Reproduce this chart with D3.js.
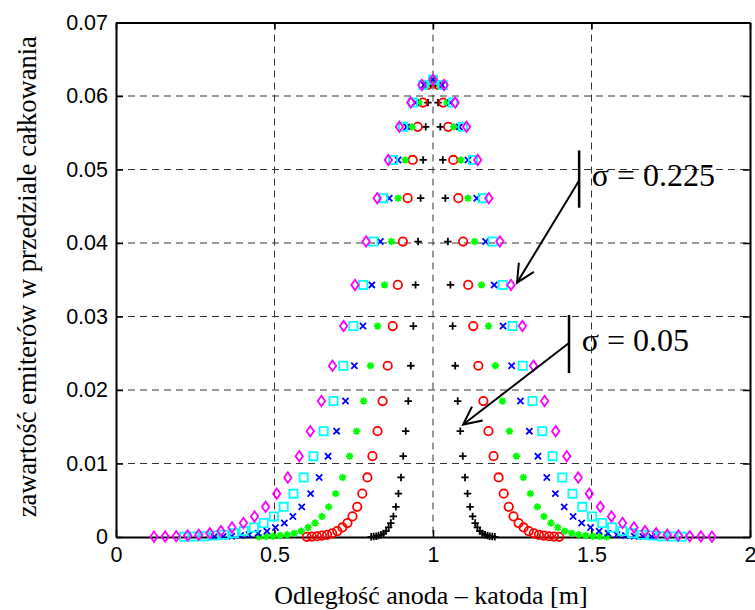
<!DOCTYPE html>
<html>
<head>
<meta charset="utf-8">
<script src="https://cdn.jsdelivr.net/npm/d3@7"></script>
<style>
  body { margin: 0; background: #fff; }
  .tick text { font-family: "Liberation Sans", Arial, sans-serif; font-size: 21.5px; fill: #000; }
</style>
</head>
<body>
<div id="chart"></div>
<script>
// ---- data -------------------------------------------------------------
// content per integration interval, shared by all sigmas (k = 0 .. 25 from the centre)
const yLevels = [0.0622, 0.0615, 0.0591, 0.0558, 0.0513, 0.0461, 0.0402, 0.0343, 0.0287, 0.0233,
    0.0185, 0.0144, 0.0110, 0.0081, 0.0059, 0.0041, 0.0028, 0.0019, 0.0013, 0.0008,
    0.0005, 0.0003, 0.0002, 0.0001, 0.00006, 0.00003];

// distance from the centre x = 1 of each point (k = 0 .. 25), the curves are symmetric
const offBlack = [0, 0.008, 0.016, 0.023, 0.031, 0.039, 0.047, 0.055, 0.062, 0.070, 0.078, 0.086, 0.094,
    0.101, 0.109, 0.117, 0.125, 0.133, 0.140, 0.148, 0.156, 0.164, 0.172, 0.179, 0.187, 0.195];
const offRed = [0, 0.016, 0.032, 0.048, 0.064, 0.080, 0.095, 0.111, 0.127, 0.143, 0.159, 0.175, 0.191,
    0.207, 0.223, 0.239, 0.254, 0.270, 0.286, 0.302, 0.318, 0.334, 0.350, 0.366, 0.382, 0.398];
const offGreen = [0, 0.022, 0.044, 0.066, 0.088, 0.110, 0.131, 0.153, 0.175, 0.197, 0.219, 0.241, 0.263,
    0.285, 0.307, 0.329, 0.350, 0.372, 0.394, 0.416, 0.438, 0.460, 0.482, 0.504, 0.526, 0.548];
const offBlue = [0, 0.028, 0.055, 0.083, 0.110, 0.138, 0.166, 0.193, 0.221, 0.248, 0.276, 0.304, 0.331,
    0.359, 0.386, 0.414, 0.442, 0.469, 0.497, 0.524, 0.552, 0.580, 0.607, 0.635, 0.662, 0.690];
const offCyan = [0, 0.031, 0.063, 0.094, 0.126, 0.157, 0.188, 0.220, 0.251, 0.283, 0.314, 0.345, 0.377,
    0.408, 0.440, 0.471, 0.502, 0.534, 0.565, 0.597, 0.628, 0.659, 0.691, 0.722, 0.754, 0.785];
const offMagenta = [0, 0.035, 0.070, 0.106, 0.141, 0.176, 0.211, 0.246, 0.282, 0.317, 0.352, 0.387, 0.422,
    0.458, 0.493, 0.528, 0.563, 0.598, 0.634, 0.669, 0.704, 0.739, 0.774, 0.810, 0.845, 0.880];

const xTicks = [0, 0.5, 1, 1.5, 2];
const xTickLabels = ["0", "0.5", "1", "1.5", "2"];
const yTicks = [0, 0.01, 0.02, 0.03, 0.04, 0.05, 0.06, 0.07];
const yTickLabels = ["0", "0.01", "0.02", "0.03", "0.04", "0.05", "0.06", "0.07"];

// annotations (data units): bar, arrow from bar to a point, label
const annotations = [
    {label: "\u03c3 = 0.225", barX: 1.461, barY0: 0.0526, barY1: 0.0448, fromY: 0.0485, toX: 1.265, toY: 0.0346, textX: 1.501, textY: 0.0477},
    {label: "\u03c3 = 0.05", barX: 1.429, barY0: 0.0302, barY1: 0.0223, fromY: 0.0264, toX: 1.095, toY: 0.0153, textX: 1.469, textY: 0.0253}
];

const series = [
    {off: offBlack, color: "#000000", marker: "plus"},
    {off: offRed, color: "#ff0000", marker: "circle"},
    {off: offGreen, color: "#00ff00", marker: "asterisk"},
    {off: offBlue, color: "#0000ff", marker: "times"},
    {off: offCyan, color: "#00ffff", marker: "square"},
    {off: offMagenta, color: "#ff00ff", marker: "diamond"}
];

// ---- canvas ------------------------------------------------------------
const canvWidth = 755, canvHeight = 610;
const margin = {top: 22.5, right: 5, bottom: 73, left: 116};
const width = canvWidth - margin.left - margin.right;
const height = canvHeight - margin.top - margin.bottom;

const svg = d3.select("#chart")
    .append("svg")
    .attr("width", canvWidth)
    .attr("height", canvHeight);

const g = svg.append("g")
    .attr("transform", `translate(${margin.left},${margin.top})`);

const x = d3.scaleLinear().domain([0, 2]).range([0, width]);
const y = d3.scaleLinear().domain([0, 0.07]).range([height, 0]);

// grid (dashed)
g.append("g")
    .selectAll("line")
    .data(yTicks.slice(1, -1))
    .enter()
    .append("line")
    .attr("x1", 0).attr("x2", width)
    .attr("y1", d => y(d)).attr("y2", d => y(d))
    .attr("stroke", "#333").attr("stroke-width", 1).attr("stroke-dasharray", "7,5");

g.append("g")
    .selectAll("line")
    .data(xTicks.slice(1, -1))
    .enter()
    .append("line")
    .attr("y1", 0).attr("y2", height)
    .attr("x1", d => x(d)).attr("x2", d => x(d))
    .attr("stroke", "#333").attr("stroke-width", 1).attr("stroke-dasharray", "7,5");

// axes with inward ticks, box all round
const axisLeft = d3.axisLeft(y).tickValues(yTicks)
    .tickFormat((d, i) => yTickLabels[i]).tickSizeInner(-7).tickSizeOuter(0).tickPadding(8);
const axisBottom = d3.axisBottom(x).tickValues(xTicks)
    .tickFormat((d, i) => xTickLabels[i]).tickSizeInner(-7).tickSizeOuter(0).tickPadding(10);
const axisRight = d3.axisRight(y).tickValues(yTicks).tickFormat("").tickSizeInner(-7).tickSizeOuter(0);
const axisTop = d3.axisTop(x).tickValues(xTicks).tickFormat("").tickSizeInner(-7).tickSizeOuter(0);

g.append("g").attr("class", "axis").call(axisLeft);
g.append("g").attr("class", "axis").attr("transform", `translate(0,${height})`).call(axisBottom);
g.append("g").attr("class", "axis").attr("transform", `translate(${width},0)`).call(axisRight);
g.append("g").attr("class", "axis").call(axisTop);

g.selectAll(".axis .domain").attr("stroke", "#000").attr("stroke-width", 2);
g.selectAll(".axis .tick line").attr("stroke", "#000").attr("stroke-width", 1.5);

// ---- markers -----------------------------------------------------------
const markerPath = {
    plus: "M-3.7,0H3.7M0,-3.7V3.7",
    times: "M-3.1,-3.1L3.1,3.1M-3.1,3.1L3.1,-3.1",
    asterisk: "M-3.7,0H3.7M0,-3.7V3.7M-2.6,-2.6L2.6,2.6M-2.6,2.6L2.6,-2.6",
    circle: "M4.2,0A4.2,4.2 0 1,1 -4.2,0A4.2,4.2 0 1,1 4.2,0Z",
    square: "M-4.1,-4.1H4.1V4.1H-4.1Z",
    diamond: "M0,-5.2L3.7,0L0,5.2L-3.7,0Z"
};

series.forEach(s => {
    const pts = [];
    for (let k = s.off.length - 1; k >= 1; k--) pts.push({x: 1 - s.off[k], y: yLevels[k]});
    for (let k = 0; k < s.off.length; k++) pts.push({x: 1 + s.off[k], y: yLevels[k]});

    g.append("g")
        .selectAll("path")
        .data(pts)
        .enter()
        .append("path")
        .attr("d", markerPath[s.marker])
        .attr("transform", d => `translate(${x(d.x)},${y(d.y)})`)
        .attr("fill", "none")
        .attr("stroke", s.color)
        .attr("stroke-width", 1.8);
});

// ---- annotations -------------------------------------------------------
annotations.forEach(a => {
    const ann = g.append("g");
    ann.append("line")
        .attr("x1", x(a.barX)).attr("x2", x(a.barX))
        .attr("y1", y(a.barY0)).attr("y2", y(a.barY1))
        .attr("stroke", "#000").attr("stroke-width", 2.5);

    const x0 = x(a.barX), y0 = y(a.fromY), x1 = x(a.toX), y1 = y(a.toY);
    ann.append("line")
        .attr("x1", x0).attr("y1", y0).attr("x2", x1).attr("y2", y1)
        .attr("stroke", "#000").attr("stroke-width", 2);

    // open arrow head
    const ang = Math.atan2(y0 - y1, x0 - x1), len = 20, spread = 26 * Math.PI / 180;
    const head = [ang - spread, ang + spread].map(t => [x1 + len * Math.cos(t), y1 + len * Math.sin(t)]);
    ann.append("path")
        .attr("d", `M${head[0][0]},${head[0][1]}L${x1},${y1}L${head[1][0]},${head[1][1]}`)
        .attr("fill", "none").attr("stroke", "#000").attr("stroke-width", 2);

    ann.append("text")
        .attr("x", x(a.textX)).attr("y", y(a.textY))
        .attr("font-family", "'Liberation Serif', 'Times New Roman', serif")
        .attr("font-size", "32px")
        .text(a.label);
});

// ---- axis titles -------------------------------------------------------
svg.append("text")
    .attr("x", margin.left + x(1) - 2)
    .attr("y", 604)
    .attr("text-anchor", "middle")
    .attr("font-family", "'Liberation Serif', 'Times New Roman', serif")
    .attr("font-size", "26px")
    .text("Odległość anoda – katoda [m]");

svg.append("text")
    .attr("transform", `translate(36,${margin.top + height / 2 - 3}) rotate(-90)`)
    .attr("text-anchor", "middle")
    .attr("font-family", "'Liberation Serif', 'Times New Roman', serif")
    .attr("font-size", "26.5px")
    .text("zawartość emiterów w przedziale całkowania");
</script>
</body>
</html>
